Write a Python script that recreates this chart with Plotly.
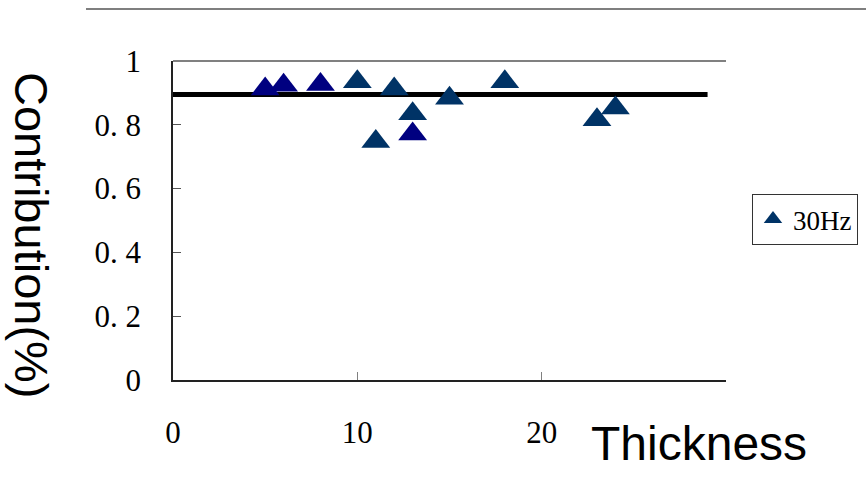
import plotly.graph_objects as go

# Data
thickness_a = [5, 6, 8, 13]
contrib_a = [0.912, 0.924, 0.926, 0.771]
thickness_b = [10, 11, 12, 13, 15, 18, 23, 24]
contrib_b = [0.935, 0.748, 0.912, 0.835, 0.883, 0.935, 0.816, 0.853]
fit_x = [0, 29]
fit_y = [0.895, 0.895]

y_ticks = [0, 0.2, 0.4, 0.6, 0.8, 1]
y_ticktext = ["0", "0. 2", "0. 4", "0. 6", "0. 8", "1"]
x_ticks = [0, 10, 20]

serif = "Liberation Serif"
sans = "Liberation Sans"

fig = go.Figure()
fig.add_trace(go.Scatter(x=fit_x, y=fit_y, mode="lines",
                         line=dict(color="black", width=5),
                         showlegend=False, hoverinfo="skip", cliponaxis=False))
fig.add_trace(go.Scatter(x=thickness_b, y=contrib_b, mode="markers", name="30Hz",
                         marker=dict(symbol="triangle-up", size=25, color="#003366"),
                         cliponaxis=False))
fig.add_trace(go.Scatter(x=thickness_a, y=contrib_a, mode="markers", name="30Hz ",
                         marker=dict(symbol="triangle-up", size=25, color="#000080"),
                         showlegend=False, cliponaxis=False))

fig.update_layout(
    width=866, height=483,
    margin=dict(l=173, r=140, t=61, b=103, autoexpand=False),
    paper_bgcolor="white", plot_bgcolor="white",
    font=dict(family=serif, color="black"),
    showlegend=True,
    legend=dict(x=(752 - 173) / 553, y=(380 - 194) / 319, xanchor="left", yanchor="top",
                bordercolor="#333333", borderwidth=1, bgcolor="white",
                font=dict(family=serif, size=27),
                itemwidth=30, tracegroupgap=0),
    xaxis=dict(range=[0, 30], tickvals=x_ticks, ticks="inside", ticklen=8,
               tickcolor="#808080", showgrid=False, zeroline=False,
               showline=True, linecolor="#222222", linewidth=1.5,
               tickfont=dict(family=serif, size=31), ticklabelstandoff=24),
    yaxis=dict(range=[0, 1], tickvals=y_ticks, ticktext=y_ticktext,
               ticks="inside", ticklen=8, tickcolor="#555555",
               showgrid=False, zeroline=False,
               showline=True, linecolor="#222222", linewidth=1.5,
               tickfont=dict(family=serif, size=31), ticklabelstandoff=24),
    shapes=[
        dict(type="line", xref="paper", yref="paper", x0=0, x1=1, y0=1, y1=1,
             line=dict(color="#808080", width=2)),
        dict(type="line", xref="paper", yref="paper",
             x0=(86 - 173) / 553, x1=(866 - 173) / 553,
             y0=1 + (61 - 9) / 319, y1=1 + (61 - 9) / 319,
             line=dict(color="black", width=1.2)),
    ],
    annotations=[
        dict(text="Thickness", xref="paper", yref="paper",
             x=(589 - 173) / 553, y=-(443 - 380) / 319,
             xanchor="left", yanchor="middle", showarrow=False,
             font=dict(family=sans, size=48, color="black")),
        dict(text="Contribution(%)", xref="paper", yref="paper",
             x=-(173 - 32) / 553, y=(380 - 235) / 319,
             xanchor="center", yanchor="middle", showarrow=False, textangle=90,
             font=dict(family=sans, size=47, color="black")),
    ],
)

fig.write_html("out.html")
